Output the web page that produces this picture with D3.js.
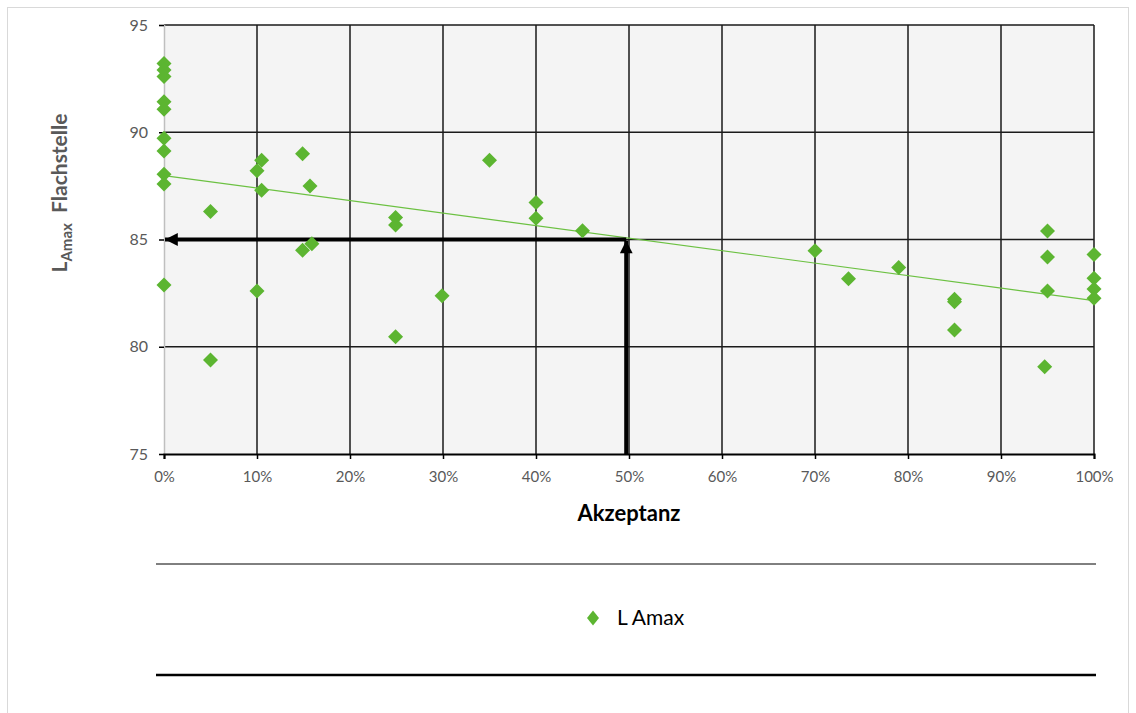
<!DOCTYPE html>
<html><head><meta charset="utf-8">
<script src="https://cdn.jsdelivr.net/npm/d3@7"></script>
<style>body{margin:0;background:#fff;} text{font-family:Lato,"Open Sans",sans-serif;}</style>
</head><body><svg id="c" width="1136" height="713"></svg>
<script>
const acceptance = [0,0,0,0,0,0,0,0,0,0, 5,5, 10,10.5,10.5,10, 14.9,15.7,14.9,15.9, 24.9,24.9,24.9, 29.9, 35, 40,40, 45, 70, 73.6, 79, 85,85,85, 95,95,95,94.7, 100,100,100,100];
const lamax = [93.2,92.9,92.6,91.42,91.07,89.72,89.13,88.04,87.59,82.88, 86.3,79.38, 88.2,88.7,87.3,82.6, 89.0,87.5,84.5,84.8, 86.03,85.68,80.47, 82.38, 88.69, 86.72,85.99, 85.41, 84.48, 83.17, 83.69, 82.21,82.1,80.78, 85.4,84.18,82.6,79.07, 84.3,83.19,82.69,82.26];
const trendX = [0,100];
const trendY = [87.98,82.15];
const xTicks = [0,10,20,30,40,50,60,70,80,90,100];
const yTicks = [75,80,85,90,95];
const readX = 49.7, readY = 85;

const svg = d3.select("#c");
const x = d3.scaleLinear().domain([0,100]).range([164,1094]);
const y = d3.scaleLinear().domain([75,95]).range([454,25]);
const green = "#5cb531";

svg.append("rect").attr("x",7.5).attr("y",7.5).attr("width",1121).attr("height",712).attr("fill","none").attr("stroke","#d9d9d9");
svg.append("rect").attr("x",x(0)).attr("y",y(95)).attr("width",x(100)-x(0)).attr("height",y(75)-y(95)).attr("fill","#f4f4f4");

// grid
svg.append("g").selectAll("line").data(xTicks.filter(d=>d>0)).join("line")
  .attr("x1",d=>x(d)).attr("x2",d=>x(d)).attr("y1",y(95)).attr("y2",y(75)).attr("stroke","#1a1a1a").attr("stroke-width",1.5);
svg.append("g").selectAll("line").data(yTicks.filter(d=>d>75)).join("line")
  .attr("x1",x(0)).attr("x2",x(100)).attr("y1",d=>y(d)).attr("y2",d=>y(d)).attr("stroke","#1a1a1a").attr("stroke-width",1.5);

// axes
const ya = svg.append("g").attr("transform",`translate(${x(0)},0)`)
  .call(d3.axisLeft(y).tickValues(yTicks).tickSize(5).tickPadding(11));
ya.select(".domain").attr("stroke","#bfbfbf").attr("stroke-width",1.5);
ya.selectAll(".tick line").attr("stroke","#000").attr("stroke-width",1.5);
ya.selectAll(".tick text").attr("font-size",16).attr("fill","#595959").attr("font-family","Lato");

const xa = svg.append("g").attr("transform",`translate(0,${y(75)})`)
  .call(d3.axisBottom(x).tickValues(xTicks).tickFormat(d=>d+"%").tickSize(5).tickPadding(12));
xa.select(".domain").attr("stroke","#000").attr("stroke-width",2);
xa.selectAll(".tick line").attr("stroke","#000").attr("stroke-width",1.5);
xa.selectAll(".tick text").attr("font-size",15).attr("fill","#595959").attr("font-family","Lato");

// trend
svg.append("line").attr("x1",x(trendX[0])).attr("y1",y(trendY[0])).attr("x2",x(trendX[1])).attr("y2",y(trendY[1]))
  .attr("stroke","#6cc142").attr("stroke-width",1.2);

// arrows
const defs = svg.append("defs");
defs.append("marker").attr("id","ah").attr("viewBox","0 0 10 10").attr("refX",10).attr("refY",5)
  .attr("markerWidth",3.4).attr("markerHeight",3.2).attr("markerUnits","strokeWidth").attr("orient","auto")
  .append("path").attr("d","M0,0L10,5L0,10z").attr("fill","#000");
svg.append("line").attr("x1",x(readX)).attr("y1",y(readY)).attr("x2",x(0)+1).attr("y2",y(readY))
  .attr("stroke","#000").attr("stroke-width",4).attr("marker-end","url(#ah)");
svg.append("line").attr("x1",x(readX)).attr("y1",y(75)).attr("x2",x(readX)).attr("y2",y(readY)+1)
  .attr("stroke","#000").attr("stroke-width",4).attr("marker-end","url(#ah)");

// points
const diamond = "M0,-7.5L7.5,0L0,7.5L-7.5,0Z";
svg.append("g").selectAll("path").data(acceptance.map((a,i)=>[a,lamax[i]])).join("path")
  .attr("d",diamond).attr("transform",d=>`translate(${x(d[0])},${y(d[1])})`).attr("fill",green);

// axis titles
svg.append("text").attr("x",629).attr("y",521).attr("text-anchor","middle").attr("font-size",22).attr("font-weight","bold").attr("fill","#000").text("Akzeptanz");
const yt = svg.append("text").attr("transform","translate(67,193) rotate(-90)").attr("text-anchor","middle")
  .attr("font-size",21).attr("font-weight","bold").attr("fill","#595959");
yt.append("tspan").text("L");
yt.append("tspan").attr("font-size",15).attr("dy",5).text("Amax");
yt.append("tspan").attr("dy",-5).text("\u00a0\u00a0Flachstelle");

// legend
svg.append("line").attr("x1",156).attr("x2",1096).attr("y1",564).attr("y2",564).attr("stroke","#000").attr("stroke-width",1);
svg.append("line").attr("x1",156).attr("x2",1096).attr("y1",675).attr("y2",675).attr("stroke","#000").attr("stroke-width",2.5);
svg.append("path").attr("d","M0,-7.5L6,0L0,7.5L-6,0Z").attr("transform","translate(593,618)").attr("fill",green);
svg.append("text").attr("x",617).attr("y",625).attr("font-size",21).attr("fill","#000").text("L Amax");
</script></body></html>
